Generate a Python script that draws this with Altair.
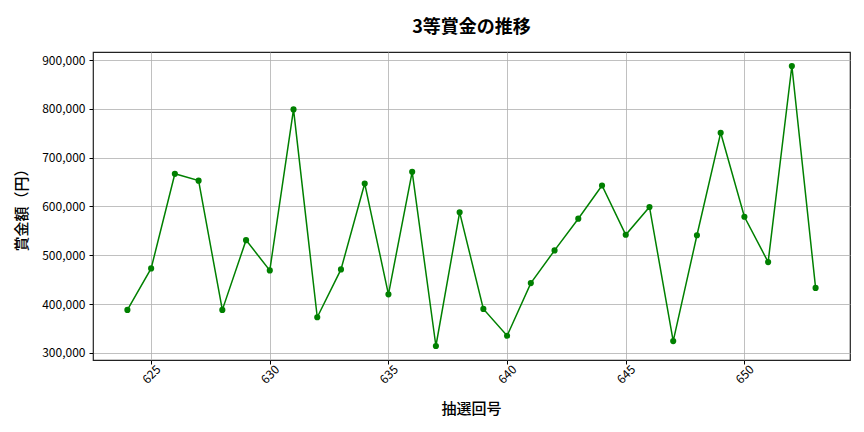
import altair as alt
import pandas as pd

draws = list(range(624, 654))
prizes = [388000, 473000, 667000, 653000, 388000, 531000, 469000, 799000, 373000, 471000,
          647000, 420000, 671000, 314000, 588000, 390000, 335000, 443000, 510000, 575000,
          643000, 542000, 599000, 324000, 541000, 751000, 579000, 486000, 888000, 433000]
x_ticks = [625, 630, 635, 640, 645, 650]
y_ticks = [300000, 400000, 500000, 600000, 700000, 800000, 900000]

df = pd.DataFrame({"draw": draws, "prize": prizes})

FONT = "Noto Sans CJK JP"
GREEN = "#008000"

x = alt.X("draw:Q", scale=alt.Scale(domain=[622.55, 654.45], nice=False, zero=False),
          axis=alt.Axis(values=x_ticks, title="抽選回号", labelAngle=315, labelAlign="center",
                        labelBaseline="middle", labelPadding=10, tickSize=4,
                        titleX=378, titleY=48, titleBaseline="middle", titleAnchor="middle"))
y = alt.Y("prize:Q", scale=alt.Scale(domain=[285300, 916700], nice=False, zero=False),
          axis=alt.Axis(values=y_ticks, format=",d", title="賞金額（円）", tickSize=4,
                        labelPadding=4, titleX=-72, titleY=154, titleBaseline="middle",
                        titleAngle=270))

base = alt.Chart(df)
line = base.mark_line(color=GREEN, strokeWidth=1.5).encode(x=x, y=y)
pts = base.mark_circle(color=GREEN, opacity=1, size=38).encode(x=x, y=y)

chart = (line + pts).properties(
    width=757, height=308,
    autosize=alt.AutoSizeParams(type="none"),
    padding={"left": 85, "top": 44, "right": 6, "bottom": 64},
    title=alt.TitleParams("3等賞金の推移", anchor="middle", fontSize=18, font=FONT,
                          fontWeight="bold", color="black", offset=18, baseline="bottom",
                          dy=21),
).configure_view(stroke="#222222", strokeWidth=1.2).configure_axis(
    labelFont=FONT, titleFont=FONT, labelFontSize=12, titleFontSize=15,
    labelColor="black", titleColor="black", titleFontWeight=500,
    gridColor="#b0b0b0", gridWidth=0.8, tickColor="black", domain=False,
)

chart.save("out.html", embed_options={"renderer": "svg", "actions": False})
